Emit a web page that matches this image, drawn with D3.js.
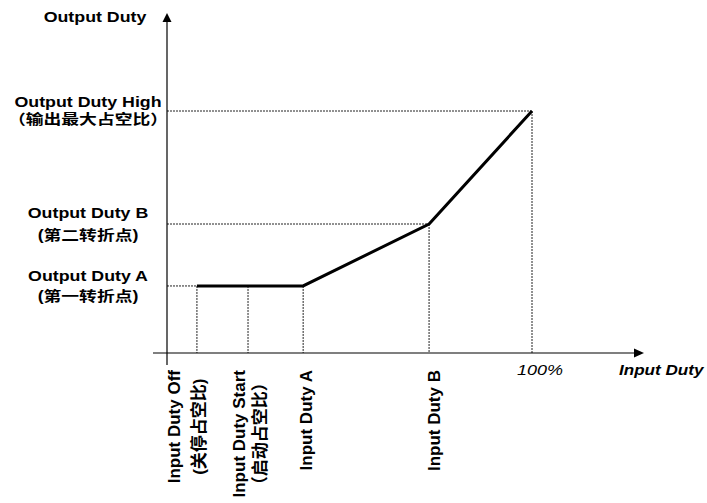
<!DOCTYPE html>
<html><head><meta charset="utf-8">
<script src="https://cdn.jsdelivr.net/npm/d3@7"></script>
<style>
html,body{margin:0;padding:0;background:#fff;}
svg{display:block;}
text{font-family:"Liberation Sans",Arial,"Noto Sans CJK SC",sans-serif;fill:#000;}
</style></head>
<body>
<svg id="chart" width="707" height="503"></svg>
<script>
// ---- data ----
const inputLabels = ["Input Duty Off", "Input Duty Start", "Input Duty A", "Input Duty B"];
const inputSubLabels = ["(关停占空比)", "（启动占空比）", "", ""];
const inputValues = [8.2, 22.2, 37.3, 71.8];
const outputLabels = ["Output Duty A", "Output Duty B", "Output Duty High"];
const outputSubLabels = ["(第一转折点)", "(第二转折点)", "（输出最大占空比）"];
const outputValues = [27.7, 53.3, 100];
const curveInput = [8.2, 37.3, 71.8, 100];
const curveOutput = [27.7, 27.7, 53.3, 100];
const fullScaleValue = 100;
const fullScaleLabel = "100%";
const xAxisTitle = "Input Duty";
const yAxisTitle = "Output Duty";

// ---- layout ----
const svg = d3.select("#chart");
const x = d3.scaleLinear().domain([0, 100]).range([167, 532]);
const y = d3.scaleLinear().domain([0, 100]).range([353, 111]);
const HS = 1.27; // horizontal stretch of horizontal text

// dotted guide lines
const guides = [];
guides.push({x1: 0, y1: outputValues[0], x2: inputValues[0], y2: outputValues[0]});
guides.push({x1: 0, y1: outputValues[1], x2: inputValues[3], y2: outputValues[1]});
guides.push({x1: 0, y1: outputValues[2], x2: fullScaleValue, y2: outputValues[2]});
[0, 1, 2].forEach(i => guides.push({x1: inputValues[i], y1: outputValues[0], x2: inputValues[i], y2: 0}));
guides.push({x1: inputValues[3], y1: outputValues[1], x2: inputValues[3], y2: 0});
guides.push({x1: fullScaleValue, y1: outputValues[2], x2: fullScaleValue, y2: 0});

svg.append("g").selectAll("line").data(guides).join("line")
  .attr("x1", d => x(d.x1)).attr("y1", d => y(d.y1))
  .attr("x2", d => x(d.x2)).attr("y2", d => y(d.y2))
  .attr("stroke", "#222").attr("stroke-width", 1)
  .attr("stroke-dasharray", "2,1");

// axes
const x0 = x(0), y0 = y(0);
svg.append("line").attr("x1", x0 - 14).attr("y1", y0).attr("x2", 637).attr("y2", y0)
  .attr("stroke", "#000").attr("stroke-width", 1.2);
svg.append("line").attr("x1", x0).attr("y1", y0 + 12).attr("x2", x0).attr("y2", 20)
  .attr("stroke", "#000").attr("stroke-width", 1.2);
svg.append("path").attr("d", `M${x0},13 L${x0 - 4.5},22 L${x0 + 4.5},22 Z`).attr("fill", "#000");
svg.append("path").attr("d", `M644,${y0} L634,${y0 - 4.5} L634,${y0 + 4.5} Z`).attr("fill", "#000");

// thick curve
const line = d3.line().x(d => x(d[0])).y(d => y(d[1]));
svg.append("path").datum(d3.zip(curveInput, curveOutput))
  .attr("d", line).attr("fill", "none").attr("stroke", "#000")
  .attr("stroke-width", 3).attr("stroke-linejoin", "miter");

// y-axis title
svg.append("text").attr("transform", `translate(95,22) scale(${HS},1)`)
  .attr("text-anchor", "middle").attr("font-size", 14).attr("font-weight", "bold").text(yAxisTitle);

// output labels
const outLine1Off = [-5, -6, -4];
const outLine2Off = [15, 16, 13];
outputLabels.forEach((lab, i) => {
  const yy = y(outputValues[i]);
  svg.append("text").attr("transform", `translate(88,${yy + outLine1Off[i]}) scale(${HS},1)`)
    .attr("text-anchor", "middle").attr("font-size", 14).attr("font-weight", "bold").text(lab);
  svg.append("text").attr("transform", `translate(88,${yy + outLine2Off[i]}) scale(${HS},1)`)
    .attr("text-anchor", "middle").attr("font-size", 14).attr("font-weight", "bold").text(outputSubLabels[i]);
});

// input labels (rotated)
const inLine1Dx = [-17, -3, 9, 11];
const inLine2Dx = [8, 18, 0, 0];
const labelTop = 370;
inputLabels.forEach((lab, i) => {
  const xx = x(inputValues[i]);
  const t = svg.append("text")
    .attr("transform", `translate(${xx + inLine1Dx[i]},${labelTop}) rotate(-90)`)
    .attr("text-anchor", "end").attr("font-size", 17).attr("font-weight", "bold").text(lab);
  if (inputSubLabels[i]) {
    const len = t.node().getComputedTextLength();
    const cy = labelTop + len / 2;
    svg.append("text")
      .attr("transform", `translate(${xx + inLine2Dx[i]},${cy}) rotate(-90)`)
      .attr("text-anchor", "middle").attr("font-size", 17).attr("font-weight", "bold")
      .text(inputSubLabels[i]);
  }
});

// 100% label
svg.append("text").attr("transform", `translate(${x(fullScaleValue) + 8},375) scale(1.2,1)`)
  .attr("text-anchor", "middle").attr("font-size", 15).attr("font-style", "italic").text(fullScaleLabel);

// x-axis title
svg.append("text").attr("transform", `translate(619,375) scale(1.22,1)`)
  .attr("text-anchor", "start").attr("font-size", 14).attr("font-weight", "bold")
  .attr("font-style", "italic").text(xAxisTitle);
</script>
</body></html>
